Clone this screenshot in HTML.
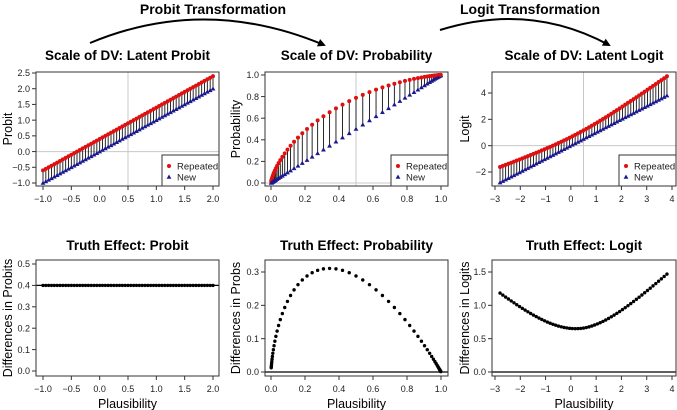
<!DOCTYPE html>
<html><head><meta charset="utf-8"><style>
html,body{margin:0;padding:0;background:#fff;}
svg{display:block;font-family:"Liberation Sans",Arial,sans-serif;}
</style></head><body>
<svg id="chart" width="677" height="410" viewBox="0 0 677 410" xmlns="http://www.w3.org/2000/svg">
<defs><marker id="ah" markerWidth="8" markerHeight="8" refX="6" refY="4" orient="auto" markerUnits="userSpaceOnUse"><path d="M0,0 L8,4 L0,8 z" fill="#000"/></marker></defs>
<text x="213" y="14" text-anchor="middle" font-size="14" font-weight="bold">Probit Transformation</text>
<path d="M90,43 Q205,-5 324,45" fill="none" stroke="#000" stroke-width="2" marker-end="url(#ah)"/>
<text x="530" y="14" text-anchor="middle" font-size="14" font-weight="bold">Logit Transformation</text>
<path d="M440,30 Q530,2 609,45" fill="none" stroke="#000" stroke-width="2" marker-end="url(#ah)"/>
<g id="plots"></g>
</svg>
<script>
// Probit panel data (latent probit scale)
const newProbit = [-1,-0.95,-0.9,-0.85,-0.8,-0.75,-0.7,-0.65,-0.6,-0.55,-0.5,-0.45,-0.4,-0.35,-0.3,-0.25,-0.2,-0.15,-0.1,-0.05,0,0.05,0.1,0.15,0.2,0.25,0.3,0.35,0.4,0.45,0.5,0.55,0.6,0.65,0.7,0.75,0.8,0.85,0.9,0.95,1,1.05,1.1,1.15,1.2,1.25,1.3,1.35,1.4,1.45,1.5,1.55,1.6,1.65,1.7,1.75,1.8,1.85,1.9,1.95,2];
const repProbit = [-0.6,-0.55,-0.5,-0.45,-0.4,-0.35,-0.3,-0.25,-0.2,-0.15,-0.1,-0.05,0,0.05,0.1,0.15,0.2,0.25,0.3,0.35,0.4,0.45,0.5,0.55,0.6,0.65,0.7,0.75,0.8,0.85,0.9,0.95,1,1.05,1.1,1.15,1.2,1.25,1.3,1.35,1.4,1.45,1.5,1.55,1.6,1.65,1.7,1.75,1.8,1.85,1.9,1.95,2,2.05,2.1,2.15,2.2,2.25,2.3,2.35,2.4];
// Probability panel data
const newProb = [0.0013,0.0019,0.0026,0.0035,0.0047,0.0062,0.0082,0.0107,0.0139,0.0179,0.0228,0.0287,0.0359,0.0446,0.0548,0.0668,0.0808,0.0968,0.1151,0.1357,0.1587,0.1841,0.2119,0.2420,0.2743,0.3085,0.3446,0.3821,0.4207,0.4602,0.5,0.5398,0.5793,0.6179,0.6554,0.6915,0.7257,0.7580,0.7881,0.8159,0.8413,0.8643,0.8849,0.9032,0.9192,0.9332,0.9452,0.9554,0.9641,0.9713,0.9772,0.9821,0.9861,0.9893,0.9918,0.9938,0.9953,0.9965,0.9974,0.9981,0.9987];
const repProb = [0.0139,0.0179,0.0228,0.0287,0.0359,0.0446,0.0548,0.0668,0.0808,0.0968,0.1151,0.1357,0.1587,0.1841,0.2119,0.2420,0.2743,0.3085,0.3446,0.3821,0.4207,0.4602,0.5,0.5398,0.5793,0.6179,0.6554,0.6915,0.7257,0.7580,0.7881,0.8159,0.8413,0.8643,0.8849,0.9032,0.9192,0.9332,0.9452,0.9554,0.9641,0.9713,0.9772,0.9821,0.9861,0.9893,0.9918,0.9938,0.9953,0.9965,0.9974,0.9981,0.9987,0.9990,0.9993,0.9995,0.9997,0.9998,0.9998,0.9999,0.9999];
// Logit panel data
const newLogit = [-2.8,-2.69,-2.58,-2.47,-2.36,-2.25,-2.14,-2.03,-1.92,-1.81,-1.7,-1.59,-1.48,-1.37,-1.26,-1.15,-1.04,-0.93,-0.82,-0.71,-0.6,-0.49,-0.38,-0.27,-0.16,-0.05,0.06,0.17,0.28,0.39,0.5,0.61,0.72,0.83,0.94,1.05,1.16,1.27,1.38,1.49,1.6,1.71,1.82,1.93,2.04,2.15,2.26,2.37,2.48,2.59,2.7,2.81,2.92,3.03,3.14,3.25,3.36,3.47,3.58,3.69,3.8];
const diffLogit = [1.184,1.154,1.124,1.095,1.066,1.038,1.009,0.982,0.955,0.929,0.903,0.878,0.854,0.831,0.809,0.788,0.768,0.749,0.732,0.716,0.702,0.689,0.678,0.668,0.661,0.655,0.652,0.650,0.651,0.654,0.659,0.667,0.677,0.690,0.705,0.721,0.739,0.759,0.780,0.803,0.828,0.853,0.880,0.907,0.936,0.965,0.995,1.026,1.058,1.090,1.122,1.155,1.189,1.223,1.257,1.292,1.327,1.362,1.397,1.433,1.469];
// Tick labels
const ticksProbitX = ["-1.0","-0.5","0.0","0.5","1.0","1.5","2.0"];
const ticksProbitY = ["-1.0","-0.5","0.0","0.5","1.0","1.5","2.0","2.5"];
const ticksProbX = ["0.0","0.2","0.4","0.6","0.8","1.0"];
const ticksProbY = ["0.0","0.2","0.4","0.6","0.8","1.0"];
const ticksLogitX = ["-3","-2","-1","0","1","2","3","4"];
const ticksLogitY = ["-2","0","2","4"];
const ticksDiffProbitY = ["0.0","0.1","0.2","0.3","0.4","0.5"];
const ticksDiffProbY = ["0.0","0.1","0.2","0.3"];
const ticksDiffLogitY = ["0.0","0.5","1.0","1.5"];

const repLogit = newLogit.map((v,i)=>v+diffLogit[i]);
const diffProbit = repProbit.map((v,i)=>v-newProbit[i]);
const diffProb = repProb.map((v,i)=>v-newProb[i]);

const NS="http://www.w3.org/2000/svg";
const root=document.getElementById('plots');
function mk(tag,attrs,parent){const e=document.createElementNS(NS,tag);for(const k in attrs)e.setAttribute(k,attrs[k]);(parent||root).appendChild(e);return e;}
function lin(d0,d1,r0,r1){return v=>r0+(v-d0)*(r1-r0)/(d1-d0);}

function panel(c){
  const g=mk('g',{});
  
  
  const sx=lin(c.xd[0],c.xd[1],c.xr[0],c.xr[1]);
  const sy=lin(c.yd[0],c.yd[1],c.yr[0],c.yr[1]);
  const b=c.box;
  const t=mk('text',{x:(b[0]+b[2])/2,y:c.titleY,'text-anchor':'middle','font-size':'13.5','font-weight':'bold'},g);
  t.textContent=c.title;
  
  
  if(c.grid){
    const gv=mk('line',{x1:sx(c.grid[0]),x2:sx(c.grid[0]),y1:b[1],y2:b[3],stroke:'#c8c8c8','stroke-width':1},g);
    
    
    const gh=mk('line',{x1:b[0],x2:b[2],y1:sy(c.grid[1]),y2:sy(c.grid[1]),stroke:'#c8c8c8','stroke-width':1},g);
    
    
  }
  if(c.hline!==undefined){
    const hl=mk('line',{x1:b[0],x2:b[2],y1:sy(c.hline),y2:sy(c.hline),stroke:'#000','stroke-width':1.2},g);
    
    
  }
  const rect=mk('rect',{x:b[0],y:b[1],width:b[2]-b[0],height:b[3]-b[1],fill:'none',stroke:'#333','stroke-width':1},g);
  
  
  const xt=c.xticks.map(Number);
  const xa=mk('line',{x1:sx(xt[0]),x2:sx(xt[xt.length-1]),y1:b[3],y2:b[3],stroke:'#333'},g);
  
  
  c.xticks.forEach(s=>{const v=Number(s);
    mk('line',{x1:sx(v),x2:sx(v),y1:b[3],y2:b[3]+4,stroke:'#333'},g);
    const tx=mk('text',{x:sx(v),y:b[3]+16,'text-anchor':'middle','font-size':'9',fill:'#222'},g);
    tx.textContent=s.replace('-','\u2212');
    
    
  });
  c.yticks.forEach(s=>{const v=Number(s);
    mk('line',{x1:b[0],x2:b[0]-4,y1:sy(v),y2:sy(v),stroke:'#333'},g);
    const ty=mk('text',{x:b[0]-6,y:sy(v)+3.2,'text-anchor':'end','font-size':'9',fill:'#222'},g);
    ty.textContent=s.replace('-','\u2212');
    
    
  });
  const yl=mk('text',{transform:`translate(${c.ylabX},${(b[1]+b[3])/2}) rotate(-90)`,'text-anchor':'middle','font-size':'12.5'},g);
  yl.textContent=c.ylab;
  
  
  if(c.xlab){
    const xl=mk('text',{x:(b[0]+b[2])/2,y:b[3]+32,'text-anchor':'middle','font-size':'12.5'},g);
    xl.textContent=c.xlab;
    
    
  }
  if(c.pairs){
    const [xs,nw,rp]=c.pairs;
    xs.forEach((x,i)=>{
      const s=mk('line',{x1:sx(x),x2:sx(x),y1:sy(nw[i]),y2:sy(rp[i]),stroke:'#111','stroke-width':0.9},g);
      
      
    });
    xs.forEach((x,i)=>{
      const X=sx(x),Y=sy(nw[i]);
      const tr=mk('path',{d:`M${X},${Y-2.4} L${X+2.4},${Y+1.8} L${X-2.4},${Y+1.8} Z`,fill:'#1a1a8c'},g);
      
      
      const ci=mk('circle',{cx:X,cy:sy(rp[i]),r:2,fill:'#e01010'},g);
      
      
    });
    const L=mk('g',{},g);
    
    
    const lx=b[2]-57, ly=b[3]-31;
    mk('rect',{x:lx,y:ly,width:57,height:31,fill:'#fff',stroke:'#333'},L);
    mk('circle',{cx:lx+7,cy:ly+11,r:2,fill:'#e01010'},L);
    const t1=mk('text',{x:lx+15,y:ly+14.5,'font-size':'9.5',fill:'#222'},L);t1.textContent='Repeated';
    
    
    mk('path',{d:`M${lx+7},${ly+19.5} L${lx+9.4},${ly+23.7} L${lx+4.6},${ly+23.7} Z`,fill:'#1a1a8c'},L);
    const t2=mk('text',{x:lx+15,y:ly+25.5,'font-size':'9.5',fill:'#222'},L);t2.textContent='New';
    
    
  }
  if(c.dots){
    const [xs,ys]=c.dots;
    xs.forEach((x,i)=>{
      const d=mk('circle',{cx:sx(x),cy:sy(ys[i]),r:1.7,fill:'#000'},g);
      
      
    });
  }
}

const topY=55, botY=245;
panel({name:'panel-latent-probit',title:'Scale of DV: Latent Probit',titleY:topY+5,box:[36,72,219,186],xd:[-1,2],xr:[43,213],yd:[-1,2.5],yr:[183,73],xticks:ticksProbitX,yticks:ticksProbitY,ylab:'Probit',ylabX:12,grid:[0.5,0],pairs:[newProbit,newProbit,repProbit]});
panel({name:'panel-probability',title:'Scale of DV: Probability',titleY:topY+5,box:[265,72,448,186],xd:[0,1],xr:[271,441],yd:[0,1],yr:[183,75],xticks:ticksProbX,yticks:ticksProbY,ylab:'Probability',ylabX:240,grid:[0.5,0],pairs:[newProb,newProb,repProb]});
panel({name:'panel-latent-logit',title:'Scale of DV: Latent Logit',titleY:topY+5,box:[492,72,676,186],xd:[-3,4],xr:[495,672],yd:[-2,4],yr:[172,93],xticks:ticksLogitX,yticks:ticksLogitY,ylab:'Logit',ylabX:469,grid:[0.5,0],pairs:[newLogit,newLogit,repLogit]});
panel({name:'panel-truth-effect-probit',title:'Truth Effect: Probit',titleY:botY+5,box:[36,260,219,376],xd:[-1,2],xr:[43,213],yd:[0,0.5],yr:[371,264],xticks:ticksProbitX,yticks:ticksDiffProbitY,ylab:'Differences in Probits',ylabX:12,xlab:'Plausibility',hline:0.4,dots:[newProbit,diffProbit]});
panel({name:'panel-truth-effect-probability',title:'Truth Effect: Probability',titleY:botY+5,box:[265,260,448,376],xd:[0,1],xr:[271,441],yd:[0,0.3],yr:[372,272],xticks:ticksProbX,yticks:ticksDiffProbY,ylab:'Differences in Probs',ylabX:240,xlab:'Plausibility',hline:0,dots:[newProb,diffProb]});
panel({name:'panel-truth-effect-logit',title:'Truth Effect: Logit',titleY:botY+5,box:[492,260,676,376],xd:[-3,4],xr:[495,672],yd:[0,1.5],yr:[372,272],xticks:ticksLogitX,yticks:ticksDiffLogitY,ylab:'Differences in Logits',ylabX:469,xlab:'Plausibility',hline:0,dots:[newLogit,diffLogit]});
</script>
</body></html>
